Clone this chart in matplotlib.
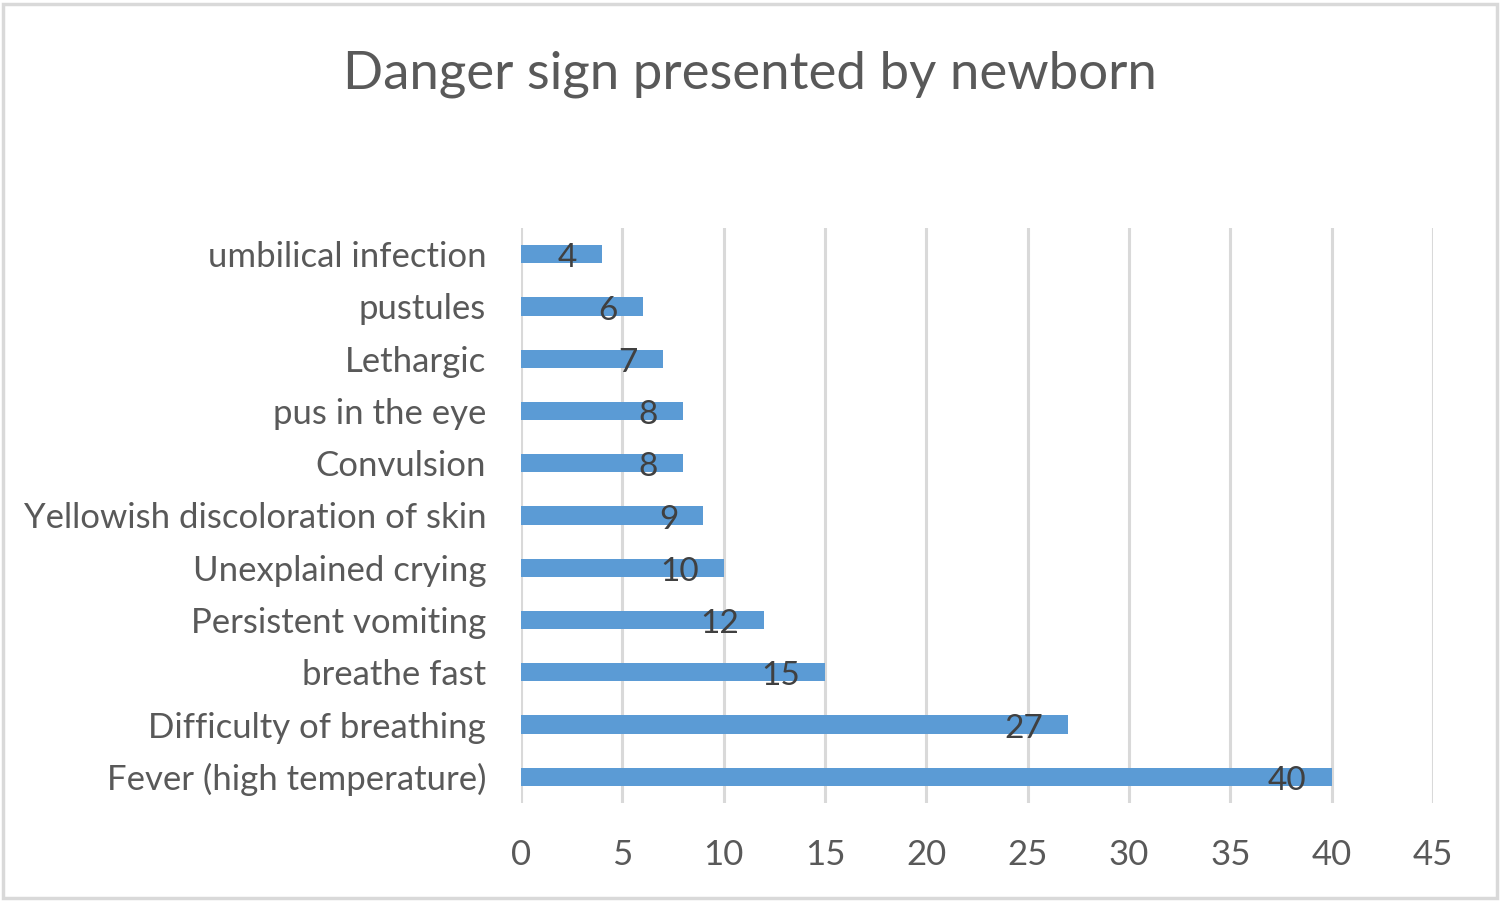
"""Danger signs presented by newborns - horizontal bar chart."""
import matplotlib

matplotlib.use("Agg")
import matplotlib.pyplot as plt
from matplotlib.patches import Rectangle

signs = [
    "Fever (high temperature)",
    "Difficulty of breathing",
    "breathe fast",
    "Persistent vomiting",
    "Unexplained crying",
    "Yellowish discoloration of skin",
    "Convulsion",
    "pus in the eye",
    "Lethargic",
    "pustules",
    "umbilical infection",
]
counts = [40, 27, 15, 12, 10, 9, 8, 8, 7, 6, 4]
xticks = [0, 5, 10, 15, 20, 25, 30, 35, 40, 45]

BAR = "#5b9bd5"
GRID = "#d9d9d9"
TXT = "#595959"

plt.rcParams["font.family"] = ["Lato", "DejaVu Sans"]

fig = plt.figure(figsize=(15, 9.02), dpi=100)
ax = fig.add_axes([0.3473, 0.1098, 0.608, 0.6374])

y = range(len(signs))
ax.barh(y, counts, height=0.35, color=BAR, zorder=2)
for yi, v in zip(y, counts):
    ax.annotate(str(v), (v, yi), xytext=(-18, -3), textcoords="offset points",
                ha="right", va="center", fontsize=24, color="#404040", zorder=3)

ax.set_xlim(0, 45)
ax.set_ylim(-0.5, len(signs) - 0.5)
ax.set_xticks(xticks)
ax.set_yticks(list(y))
ax.set_yticklabels(signs)
ax.tick_params(axis="both", length=0, labelsize=25, labelcolor=TXT)
ax.tick_params(axis="x", pad=26)
ax.tick_params(axis="y", pad=25)
ax.xaxis.grid(True, color=GRID, linewidth=2.2, zorder=0)
ax.set_axisbelow(True)
for s in ax.spines.values():
    s.set_visible(False)

fig.text(0.5, 0.918, "Danger sign presented by newborn", ha="center", va="center",
         fontsize=38, color=TXT)

# chart border
fig.patches.append(Rectangle((0.002, 0.004), 0.996, 0.992, transform=fig.transFigure,
                             fill=False, edgecolor=GRID, linewidth=2.5))

fig.savefig("out.png", dpi=100)
